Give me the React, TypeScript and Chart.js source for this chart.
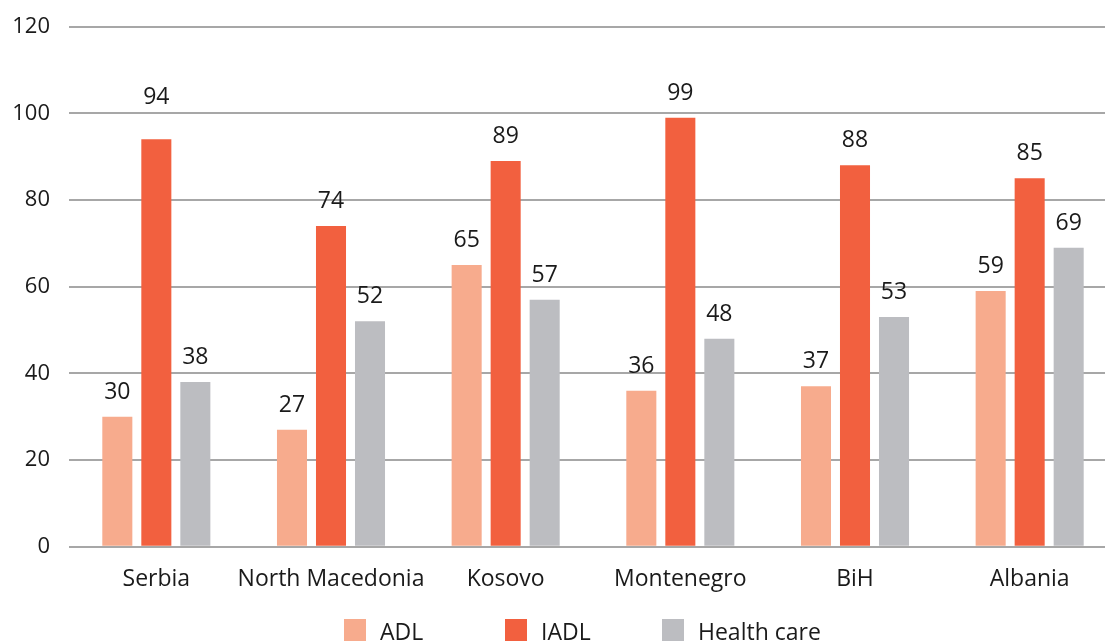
import React, { useEffect, useRef } from "react";
import { Chart, registerables } from "chart.js";

Chart.register(...registerables);

const countries = ["Serbia", "North Macedonia", "Kosovo", "Montenegro", "BiH", "Albania"];
const adl = [30, 27, 65, 36, 37, 59];
const iadl = [94, 74, 89, 99, 88, 85];
const healthCare = [38, 52, 57, 48, 53, 69];
const yTicks = [0, 20, 40, 60, 80, 100, 120];

const seriesNames = ["ADL", "IADL", "Health care"];
const seriesColors = ["#F7AB8D", "#F2603F", "#BCBDC1"];

const FONT = "'Open Sans', 'Noto Sans', sans-serif";
const TEXT = "#1a1a1a";

// value labels sitting above each bar; one label is lifted a little higher
const valueLabels = {
  id: "valueLabels",
  afterDatasetsDraw(chart: any) {
    const ctx = chart.ctx;
    ctx.save();
    ctx.font = `23px ${FONT}`;
    ctx.fillStyle = TEXT;
    ctx.textAlign = "center";
    ctx.textBaseline = "alphabetic";
    chart.data.datasets.forEach((ds: any, di: number) => {
      const meta = chart.getDatasetMeta(di);
      meta.data.forEach((bar: any, i: number) => {
        const lift = di === 1 && i === 0 ? 17 : 0;
        ctx.fillText(String(ds.data[i]), bar.x, bar.y - 18 - lift);
      });
    });
    ctx.restore();
  },
};

// legend row along the bottom edge
const bottomLegend = {
  id: "bottomLegend",
  afterDraw(chart: any) {
    const ctx = chart.ctx;
    const boxX = [344, 505, 662];
    ctx.save();
    ctx.font = `23px ${FONT}`;
    ctx.textBaseline = "alphabetic";
    ctx.textAlign = "left";
    chart.data.datasets.forEach((ds: any, di: number) => {
      ctx.fillStyle = ds.backgroundColor;
      ctx.fillRect(boxX[di], 619, 22, 22);
      ctx.fillStyle = TEXT;
      ctx.fillText(ds.label, boxX[di] + 36, 640);
    });
    ctx.restore();
  },
};

export default function App() {
  const canvasRef = useRef<HTMLCanvasElement | null>(null);

  useEffect(() => {
    if (!canvasRef.current) return;
    const chart = new Chart(canvasRef.current, {
      type: "bar",
      data: {
        labels: countries,
        datasets: [adl, iadl, healthCare].map((values, k) => ({
          label: seriesNames[k],
          data: values,
          backgroundColor: seriesColors[k],
          borderWidth: 0,
          barPercentage: 0.77,
          categoryPercentage: 0.67,
        })),
      },
      options: {
        responsive: false,
        animation: false,
        layout: { padding: { left: 0, right: 0, top: 26.7, bottom: 47 } },
        plugins: {
          legend: { display: false },
          tooltip: { enabled: false },
        },
        scales: {
          x: {
            grid: { display: false },
            border: { display: false },
            ticks: {
              color: TEXT,
              font: { family: FONT, size: 23 },
              padding: 11,
              maxRotation: 0,
              autoSkip: false,
            },
            afterFit(scale: any) {
              scale.height = 50.3;
            },
          },
          y: {
            min: 0,
            max: 120,
            afterBuildTicks(scale: any) {
              scale.ticks = yTicks.map((v) => ({ value: v }));
            },
            grid: { color: "#A7A7A7", lineWidth: 2, drawTicks: false },
            border: { display: false },
            ticks: {
              color: TEXT,
              font: { family: FONT, size: 22, lineHeight: 0.4 },
              padding: 19,
            },
            afterFit(scale: any) {
              scale.width = 69;
            },
          },
        },
      },
      plugins: [valueLabels, bottomLegend],
    });
    return () => chart.destroy();
  }, []);

  return (
    <div
      style={{
        position: "absolute",
        left: 0,
        top: 0,
        width: 1105,
        height: 644,
        overflow: "hidden",
        background: "#fff",
      }}
    >
      <canvas ref={canvasRef} width={1117} height={644} />
    </div>
  );
}
